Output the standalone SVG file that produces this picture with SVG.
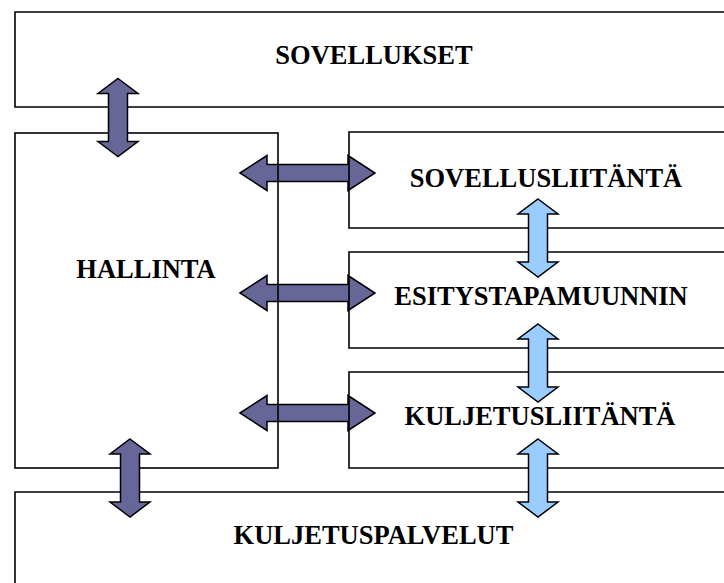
<svg xmlns="http://www.w3.org/2000/svg" xmlns:xlink="http://www.w3.org/1999/xlink" width="724" height="583" viewBox="0 0 724 583">
  <style>
    .box { fill: none; stroke: #000; stroke-width: 1.6; }
    .lbl { font-family: "Liberation Serif", "Times New Roman", serif; font-weight: bold; font-size: 26.5px; text-anchor: middle; fill: #000; }
    .dark { fill: #666699; stroke: #000; stroke-width: 1.5; stroke-linejoin: miter; }
    .light { fill: #99ccff; stroke: #000; stroke-width: 1.5; stroke-linejoin: miter; }
  </style>
  <defs>
    <!-- double-headed block arrows, centred on the origin -->
    <path id="harrow" d="M-67.5,0 L-40.5,-17.5 L-40.5,-8.5 L40.5,-8.5 L40.5,-17.5 L67.5,0 L40.5,17.5 L40.5,8.5 L-40.5,8.5 L-40.5,17.5 Z"/>
    <path id="varrow" d="M0,-39 L20,-24 L9.5,-24 L9.5,24 L20,24 L0,39 L-20,24 L-9.5,24 L-9.5,-24 L-20,-24 Z"/>
  </defs>

  <rect width="724" height="583" fill="#fff"/>

  <!-- horizontal management arrows sit beneath the box outlines -->
  <g id="connectors-h">
    <use xlink:href="#harrow" class="dark" x="307.5" y="173"/>
    <use xlink:href="#harrow" class="dark" x="307.5" y="293"/>
    <use xlink:href="#harrow" class="dark" x="307.5" y="413"/>
  </g>

  <g id="sovellukset">
    <path class="box" d="M730,12 H15 V107 H730"/>
    <text class="lbl" x="374" y="64">SOVELLUKSET</text>
  </g>

  <g id="hallinta">
    <rect class="box" x="15" y="133" width="263" height="335"/>
    <text class="lbl" x="146" y="278">HALLINTA</text>
  </g>

  <g id="sovellusliitanta">
    <path class="box" d="M730,132 H349 V228 H730"/>
    <text class="lbl" x="546" y="187">SOVELLUSLIITÄNTÄ</text>
  </g>

  <g id="esitystapamuunnin">
    <path class="box" d="M730,252 H349 V348 H730"/>
    <text class="lbl" x="541" y="305">ESITYSTAPAMUUNNIN</text>
  </g>

  <g id="kuljetusliitanta">
    <path class="box" d="M730,372 H349 V468 H730"/>
    <text class="lbl" x="540" y="425">KULJETUSLIITÄNTÄ</text>
  </g>

  <g id="kuljetuspalvelut">
    <path class="box" d="M730,492 H15 V590"/>
    <text class="lbl" x="373.5" y="544">KULJETUSPALVELUT</text>
  </g>

  <!-- vertical arrows between layers -->
  <g id="connectors-v">
    <use xlink:href="#varrow" class="dark" x="118" y="117.5"/>
    <use xlink:href="#varrow" class="dark" x="130" y="478"/>
    <use xlink:href="#varrow" class="light" x="538" y="238"/>
    <use xlink:href="#varrow" class="light" x="538" y="363"/>
    <use xlink:href="#varrow" class="light" x="538" y="478"/>
  </g>
</svg>
